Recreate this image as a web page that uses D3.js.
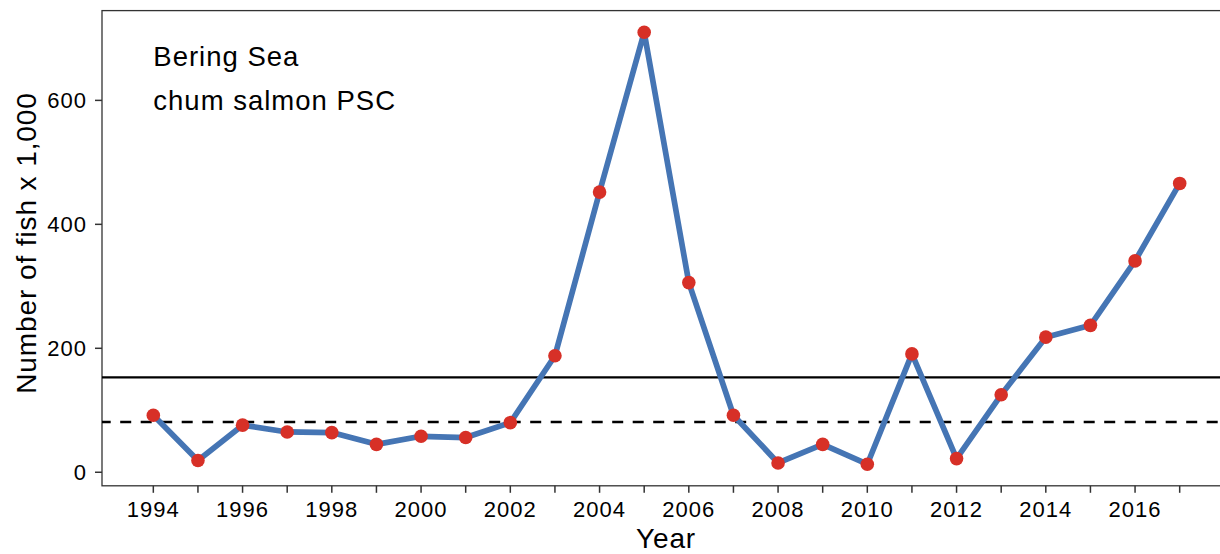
<!DOCTYPE html>
<html><head><meta charset="utf-8">
<script src="https://cdn.jsdelivr.net/npm/d3@7"></script>
<style>body{margin:0;background:#fff}svg{display:block}text{font-family:"Liberation Sans",Arial,sans-serif;fill:#000}</style>
</head><body><svg id="c" width="1220" height="554"></svg>
<script>
const years = [1994,1995,1996,1997,1998,1999,2000,2001,2002,2003,2004,2005,2006,2007,2008,2009,2010,2011,2012,2013,2014,2015,2016,2017];
const psc = [92,19,76,65,64,45,58,56,80,188,452,710,306,92,15,45,13,191,22,125,218,237,341,466];
const xTicks = [1994,1996,1998,2000,2002,2004,2006,2008,2010,2012,2014,2016];
const xMinorTicks = years;
const yTicks = [0,200,400,600];
const refSolid = 153;
const refDashed = 81;
const labels = ["Bering Sea","chum salmon PSC"];

const svg = d3.select("#c");
const x = d3.scaleLinear().domain([1992.85, 2018.15]).range([102, 1231]);
const y = d3.scaleLinear().domain([-21.85, 744.85]).range([485.8, 10.6]);

// panel border
svg.append("rect").attr("x",102).attr("y",10.6).attr("width",1129).attr("height",475.2)
  .attr("fill","none").attr("stroke","#333").attr("stroke-width",1.3);

// reference lines
svg.append("line").attr("x1",102).attr("x2",1231).attr("y1",y(refSolid)).attr("y2",y(refSolid))
  .attr("stroke","#000").attr("stroke-width",2.2);
svg.append("line").attr("x1",102).attr("x2",1231).attr("y1",y(refDashed)).attr("y2",y(refDashed))
  .attr("stroke","#000").attr("stroke-width",2.4).attr("stroke-dasharray","11,9.5").attr("stroke-dashoffset",2.3);

// series line
svg.append("path").datum(years.map((d,i)=>[d,psc[i]]))
  .attr("d", d3.line().x(d=>x(d[0])).y(d=>y(d[1])))
  .attr("fill","none").attr("stroke","#4575b4").attr("stroke-width",5.7).attr("stroke-linejoin","round");

svg.selectAll("circle.p").data(years.map((d,i)=>[d,psc[i]])).enter().append("circle")
  .attr("cx",d=>x(d[0])).attr("cy",d=>y(d[1])).attr("r",6.8).attr("fill","#d73027");

// x axis
const xa = svg.append("g").attr("transform","translate(0,485.8)");
xa.selectAll("line").data(xMinorTicks).enter().append("line")
  .attr("x1",d=>x(d)).attr("x2",d=>x(d)).attr("y1",0).attr("y2",7)
  .attr("stroke","#333").attr("stroke-width",1.5);
xa.selectAll("text").data(xTicks).enter().append("text")
  .attr("x",d=>x(d)).attr("y",31.5).attr("text-anchor","middle")
  .style("font-size","22px").style("letter-spacing","1px").text(d=>d);

// y axis
const ya = svg.append("g");
ya.selectAll("line").data(yTicks).enter().append("line")
  .attr("x1",95).attr("x2",102).attr("y1",d=>y(d)).attr("y2",d=>y(d))
  .attr("stroke","#333").attr("stroke-width",1.5);
ya.selectAll("text").data(yTicks).enter().append("text")
  .attr("x",87).attr("y",d=>y(d)+7.8).attr("text-anchor","end")
  .style("font-size","22px").style("letter-spacing","1px").text(d=>d);

// titles
svg.append("text").attr("x",666).attr("y",548).attr("text-anchor","middle")
  .style("font-size","28px").style("letter-spacing","0.8px").text("Year");
svg.append("text").attr("transform","translate(36,243) rotate(-90)").attr("text-anchor","middle")
  .style("font-size","28px").style("letter-spacing","0.9px").text("Number of fish x 1,000");

// annotation
svg.selectAll("text.ann").data(labels).enter().append("text").attr("class","ann")
  .attr("x",x(1994)).attr("y",(d,i)=>66+i*44)
  .style("font-size","27.5px").style("letter-spacing","1px").text(d=>d);
</script></body></html>
